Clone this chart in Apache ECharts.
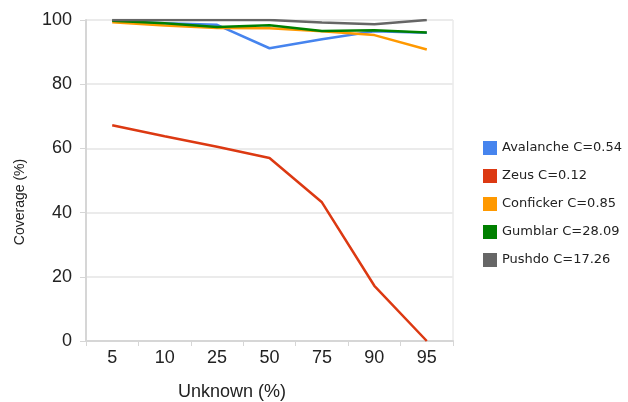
<!DOCTYPE html>
<html>
<head>
<meta charset="utf-8">
<script src="https://cdn.jsdelivr.net/npm/echarts@6/dist/echarts.min.js"></script>
<style>
  html, body { margin: 0; padding: 0; background: #fff; }
  #main { width: 628px; height: 402px; }
</style>
</head>
<body>
<div id="main"></div>
<script>
var categories = ['5', '10', '25', '50', '75', '90', '95'];
var avalanche = [99.7, 99.0, 98.5, 91.2, 94.0, 96.5, 96.0];
var zeus = [67.2, 63.8, 60.5, 57.0, 43.2, 17.2, 0];
var conficker = [99.3, 98.3, 97.5, 97.4, 96.5, 95.3, 90.8];
var gumblar = [99.8, 99.0, 97.8, 98.4, 96.6, 96.8, 96.1];
var pushdo = [100, 100, 100, 100, 99.2, 98.7, 100];
var names = ['Avalanche C=0.54', 'Zeus C=0.12', 'Conficker C=0.85', 'Gumblar C=28.09', 'Pushdo C=17.26'];
var colors = ['#4684ee', '#dc3912', '#ff9900', '#008000', '#666666'];

var seriesData = [avalanche, zeus, conficker, gumblar, pushdo];
var series = [];
for (var i = 0; i < seriesData.length; i++) {
    series.push({
        name: names[i],
        type: 'line',
        data: seriesData[i],
        symbol: 'none',
        lineStyle: { width: 2.5, color: colors[i] },
        itemStyle: { color: colors[i] },
        z: 2 + i
    });
}

var myChart = echarts.init(document.getElementById('main'));
myChart.setOption({
    animation: false,
    textStyle: { fontFamily: 'Arial, "Liberation Sans", sans-serif' },
    grid: {
        left: 86, right: 175, top: 20, bottom: 61,
        show: true, borderColor: '#e0e0e0', borderWidth: 1
    },
    legend: {
        orient: 'vertical',
        left: 478,
        top: 136,
        icon: 'rect',
        itemWidth: 14,
        itemHeight: 14,
        itemGap: 14,
        textStyle: { fontSize: 13, color: '#222', fontFamily: '"DejaVu Sans", sans-serif' },
        data: names
    },
    graphic: [
        {
            type: 'text', left: 'center', x: 20, y: 202, rotation: Math.PI / 2,
            style: {
                text: 'Coverage (%)', x: 0, y: 0, align: 'center', verticalAlign: 'middle',
                font: '14px Arial, "Liberation Sans", sans-serif', fill: '#222'
            },
            left: null
        },
        {
            type: 'text', x: 232, y: 392,
            style: {
                text: 'Unknown (%)', x: 0, y: 0, align: 'center', verticalAlign: 'middle',
                font: '18px Arial, "Liberation Sans", sans-serif', fill: '#222'
            }
        }
    ],
    xAxis: {
        type: 'category',
        data: categories,
        boundaryGap: true,
        axisLine: { lineStyle: { color: '#d6d6d6', width: 2 } },
        axisTick: { show: true, length: 5, interval: 0, lineStyle: { color: '#d6d6d6' } },
        axisLabel: { fontSize: 18, color: '#222', margin: 8 },
        splitLine: { show: false }
    },
    yAxis: {
        type: 'value',
        min: 0, max: 100, interval: 20,
        axisLine: { show: true, lineStyle: { color: '#d6d6d6', width: 2 } },
        axisTick: { show: true, length: 6, lineStyle: { color: '#d6d6d6' } },
        axisLabel: { fontSize: 18, color: '#222', margin: 14 },
        splitLine: { show: true, lineStyle: { color: '#ebebeb', width: 2 } }
    },
    series: series
});
</script>
</body>
</html>
